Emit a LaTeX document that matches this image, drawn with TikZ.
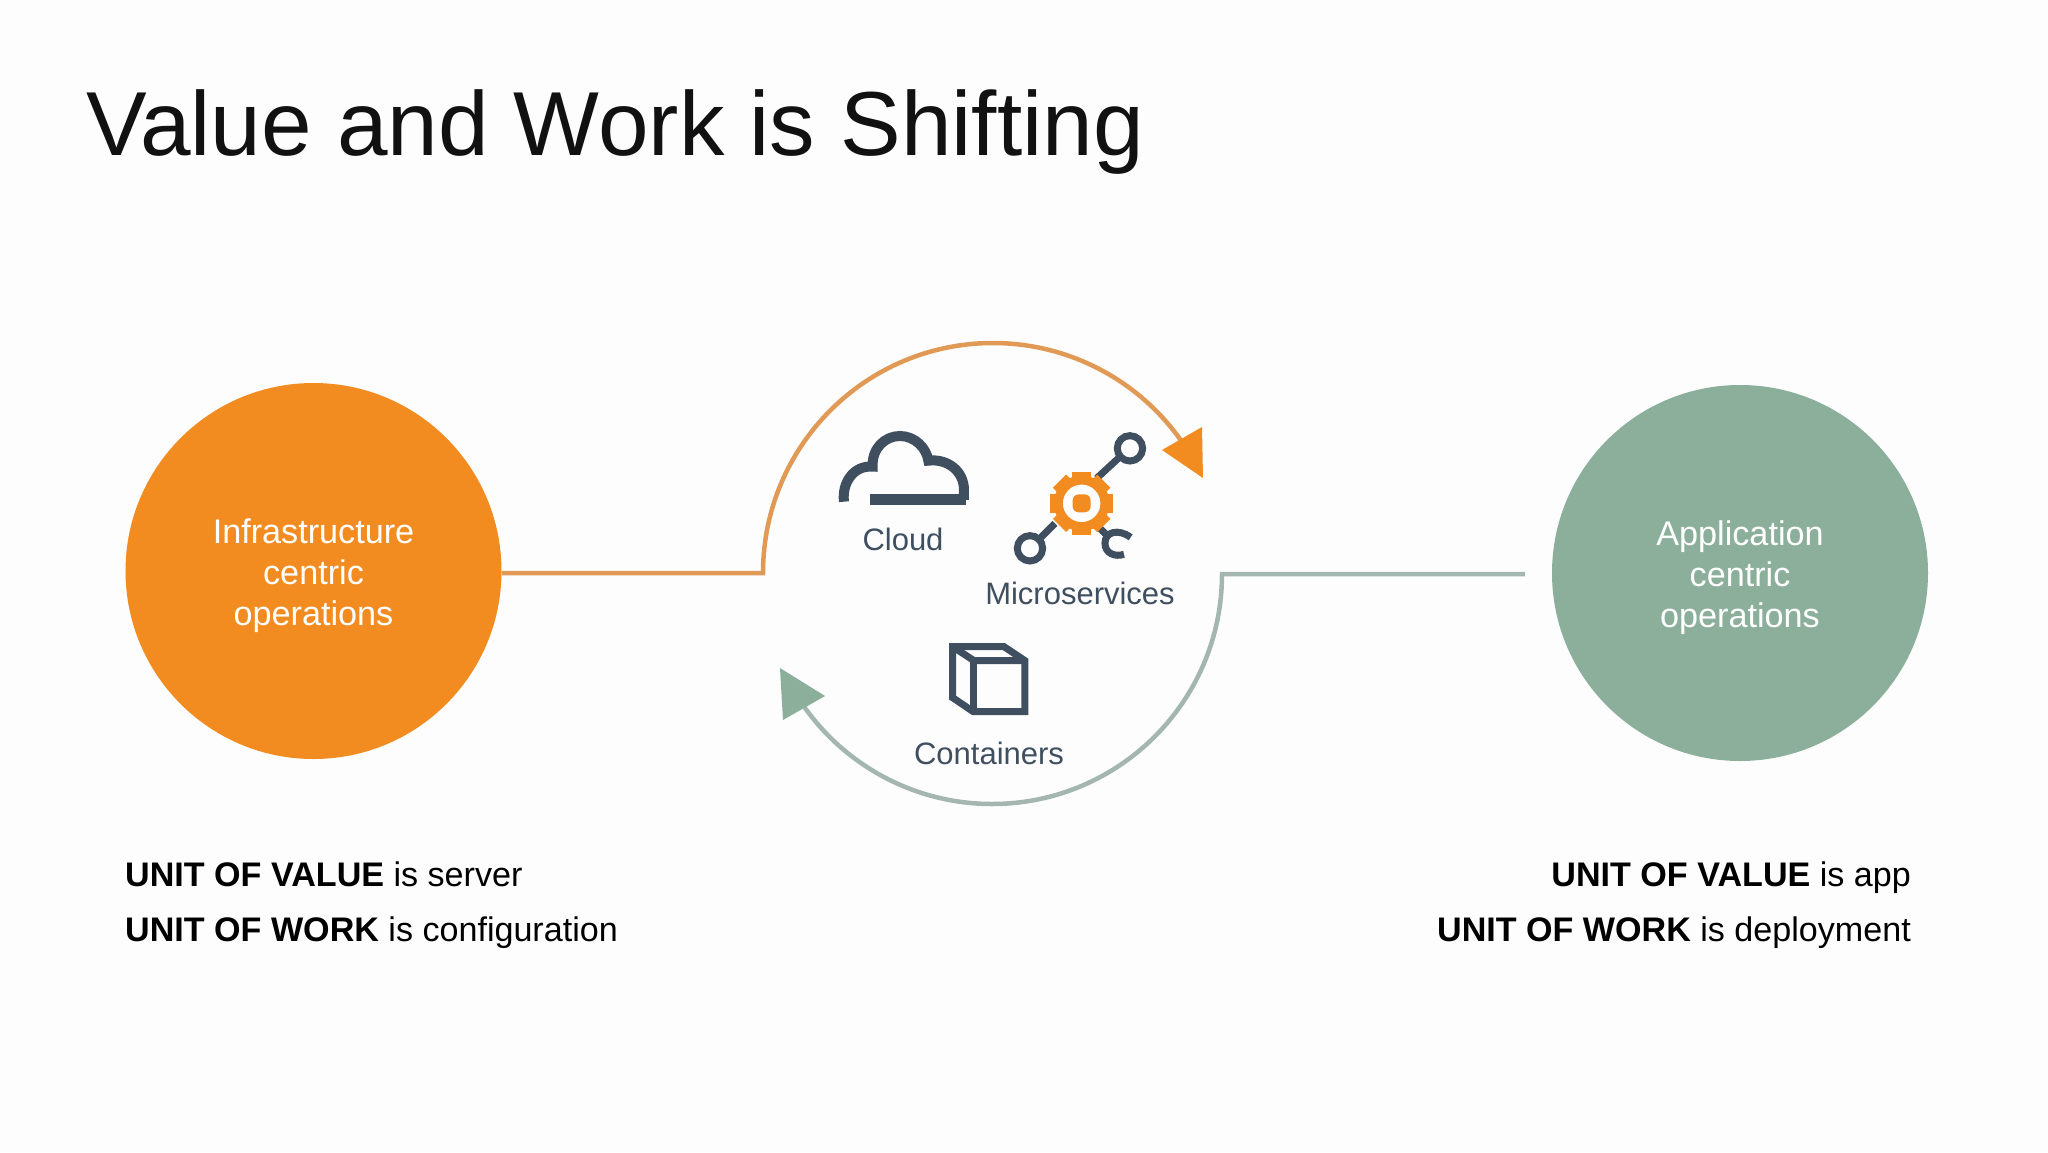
\documentclass[tikz,border=0pt]{standalone}
\usepackage{fontspec}
\setmainfont{Liberation Sans}
\definecolor{bgc}{HTML}{FDFDFE}
\definecolor{orangec}{HTML}{F28C20}
\definecolor{greenc}{HTML}{8BAF9B}
\definecolor{orangeline}{HTML}{E09A55}
\definecolor{greenline}{HTML}{A3B6B0}
\definecolor{slatec}{HTML}{3F4F5F}
\definecolor{titlec}{HTML}{111111}
\tikzset{
  bubble/.style={circle,fill=#1,minimum size=376pt,inner sep=0pt},
  bubbletext/.style={inner sep=0pt,text=white,align=center,font=\fontsize{34.2}{41}\selectfont},
  caption/.style={inner sep=0pt,anchor=base,text=slatec,font=\fontsize{31}{36}\selectfont},
  unitline/.style={inner sep=0pt,text=black,font=\fontsize{34.1}{40}\selectfont},
  flowline/.style={line width=4.5pt,line join=miter},
  icon/.style={draw=slatec,line width=7pt},
}
\begin{document}
\begin{tikzpicture}[x=1pt,y=-1pt]
\useasboundingbox (0,0) rectangle (2048,1152);
\fill[bgc] (0,0) rectangle (2048,1152);
% title
\node[inner sep=0pt,anchor=base west,text=titlec,font=\fontsize{90.9}{100}\selectfont] (title) at (86,155) {Value and Work is Shifting};
% bubbles
\node[bubble=orangec] (infra) at (313.5,571) {};
\node[bubbletext] (infratext) at ([yshift=-5pt]infra.center) {Infrastructure\\centric\\operations};
\node[bubble=greenc] (app) at (1740,573) {};
\node[bubbletext] (apptext) at ([yshift=-5pt]app.center) {Application\\centric\\operations};
% flow connectors
\coordinate (orangeTurn) at (763,573);
\coordinate (greenEnd) at (1525,574);
\coordinate (greenTurn) at (1222,574);
\draw[flowline,orangeline] (infra.east |- orangeTurn) -- (orangeTurn) arc[start angle=180,end angle=35,x radius=230,y radius=-230];
\draw[flowline,greenline] (greenEnd) -- (greenTurn) arc[start angle=0,end angle=-147,x radius=230,y radius=-230];
\fill[orangec] (1162,450) -- (1202,427) -- (1203,478) -- cycle;
\fill[greenc] (780,668) -- (783,720) -- (825,696) -- cycle;
% cloud icon
\begin{scope}[shift={(740,320)},x=0.3333pt,y=-0.3333pt]
  \draw[icon,line width=10pt] (312,545) .. controls (305,490) and (340,435) .. (398,440)
     .. controls (395,385) and (435,348) .. (480,348)
     .. controls (525,348) and (560,385) .. (565,422)
     .. controls (625,415) and (672,455) .. (672,510) -- (672,540);
  \fill[slatec] (390,523) rectangle (678,555);
  % microservices icon
  \draw[icon] (1070,475) -- (1135,415);
  \draw[icon] (1170,385) circle[radius=38];
  \draw[icon] (945,610) -- (900,655);
  \draw[icon] (870,685) circle[radius=38];
  \draw[icon] (1075,620) -- (1100,645);
  \draw[icon] (1172,652) .. controls (1135,625) and (1095,635) .. (1095,670)
     .. controls (1095,700) and (1125,712) .. (1152,703);
  \foreach \a in {0,45,...,315}{
    \fill[orangec,rotate around={\a:(1025,550)}] (997,456) rectangle (1053,484);
  }
  \draw[orangec,line width=9pt] (1025,550) circle[radius=70];
  \fill[orangec,rounded corners=6pt] (998,523) rectangle (1052,577);
\end{scope}
% box icon
\begin{scope}[shift={(740,550)},x=0.3333pt,y=-0.3333pt]
  \draw[icon,line join=miter] (638,290) -- (792,290) -- (855,332) -- (855,485) -- (700,485) -- (638,443) -- cycle;
  \draw[icon] (638,290) -- (702,332) -- (855,332);
  \draw[icon] (702,332) -- (702,485);
\end{scope}
% captions
\node[caption] (cloud) at (903,550) {Cloud};
\node[caption] (micro) at (1080,604) {Microservices};
\node[caption] (cont) at (989,764) {Containers};
% unit lines
\node[unitline,anchor=base west] (lv) at (125,886) {\textbf{UNIT OF VALUE} is server};
\node[unitline,anchor=base west] (lw) at (125,941) {\textbf{UNIT OF WORK} is configuration};
\node[unitline,anchor=base east] (rv) at (1911,886) {\textbf{UNIT OF VALUE} is app};
\node[unitline,anchor=base east] (rw) at (1911,941) {\textbf{UNIT OF WORK} is deployment};
\end{tikzpicture}
\end{document}
